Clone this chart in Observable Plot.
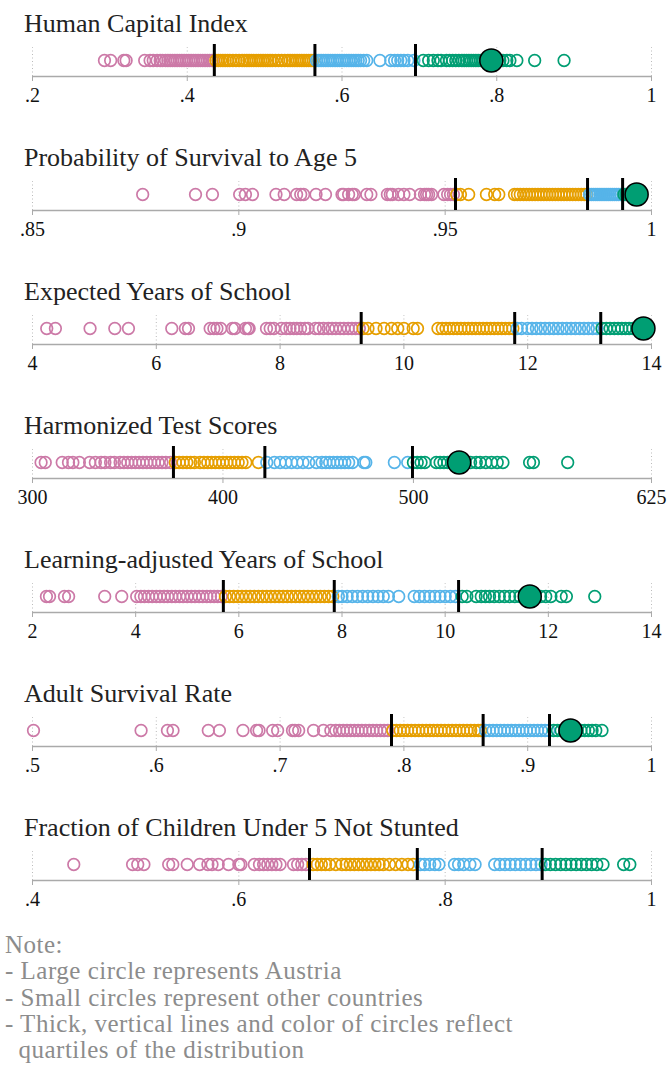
<!DOCTYPE html>
<html><head><meta charset="utf-8">
<script src="https://cdn.jsdelivr.net/npm/d3@7"></script>
<script src="https://cdn.jsdelivr.net/npm/@observablehq/plot@0.6"></script>
<style>
body{margin:0;background:#fff;}
#chart{position:relative;width:667px;height:1073px;font-family:'Liberation Serif',serif;}
.panel{position:absolute;left:0;width:667px;height:134px;}
.title{position:absolute;left:24px;top:11px;font-size:26px;line-height:26px;color:#222;white-space:nowrap;font-family:'Liberation Serif',serif;}
.panel svg{position:absolute;left:0;top:37px;}
.note{position:absolute;left:5px;top:932px;font-size:25px;line-height:26.3px;color:#8c8c8c;white-space:nowrap;letter-spacing:0.5px;font-family:'Liberation Serif',serif;}
</style></head>
<body><div id="chart"></div>
<script>
const titles = ["Human Capital Index","Probability of Survival to Age 5","Expected Years of School","Harmonized Test Scores","Learning-adjusted Years of School","Adult Survival Rate","Fraction of Children Under 5 Not Stunted"];
const tickSets = [[0.2,0.4,0.6,0.8,1],[0.85,0.9,0.95,1],[4,6,8,10,12,14],[300,400,500,625],[2,4,6,8,10,12,14],[0.5,0.6,0.7,0.8,0.9,1],[0.4,0.6,0.8,1]];
const quartiles = [[0.435,0.565,0.695],[0.9525,0.9845,0.993],[9.31,11.79,13.18],[374,422,499.5],[5.70,7.85,10.26],[0.790,0.864,0.9176],[0.6685,0.773,0.894]];
const austria = [0.793,0.9964,13.87,524,11.64,0.9346,null];
const palette = ["#CC79A7","#E69F00","#56B4E9","#009E73"];

const hci = [0.293,0.301,0.318,0.321,0.345,0.352,0.356,0.361,0.365,0.368,0.372,0.375,0.378,0.381,0.384,0.387,0.390,0.393,0.396,0.399,0.402,0.405,0.408,0.411,0.414,0.417,0.420,0.423,0.426,0.429,0.432,0.434,
0.437,0.440,0.443,0.446,0.449,0.452,0.455,0.459,0.463,0.467,0.471,0.474,0.477,0.480,0.483,0.486,0.489,0.492,0.495,0.498,0.501,0.504,0.507,0.510,0.514,0.518,0.522,0.526,0.530,0.533,0.536,0.539,0.542,0.545,0.548,0.551,0.554,0.557,0.560,0.563,
0.567,0.570,0.573,0.576,0.579,0.582,0.585,0.588,0.591,0.594,0.597,0.600,0.603,0.606,0.609,0.612,0.615,0.618,0.621,0.624,0.628,0.632,0.649,0.663,0.668,0.672,0.676,0.680,0.685,0.693,
0.705,0.712,0.718,0.724,0.728,0.735,0.739,0.743,0.747,0.751,0.755,0.758,0.761,0.764,0.767,0.770,0.773,0.776,0.779,0.782,0.785,0.788,0.791,0.796,0.800,0.804,0.808,0.813,0.817,0.826,0.849,0.887];
const survival5 = [0.8767,0.8895,0.8936,0.9002,0.9016,0.9033,0.9090,0.9110,0.9140,0.9150,0.9157,0.9187,0.9210,0.9250,0.9254,0.9266,0.9275,0.9280,0.9310,0.9320,0.9360,0.9367,0.9372,0.9387,0.9400,0.9414,0.9440,0.9450,0.9455,0.9460,0.9467,0.9497,0.9506,0.9513,0.9520,
0.9528,0.9537,0.9557,0.9600,0.9620,0.9630,0.9668,0.9675,0.9682,0.9690,0.9697,0.9704,0.9711,0.9718,0.9725,0.9732,0.9739,0.9746,0.9753,0.9760,0.9767,0.9774,0.9781,0.9788,0.9795,0.9802,0.9809,0.9816,0.9823,0.9830,0.9837,0.9843,
0.9850,0.9855,0.9860,0.9865,0.9870,0.9875,0.9880,0.9885,0.9890,0.9895,0.9900,0.9905,0.9910,0.9915,0.9920,0.9925,
0.9933,0.9938,0.9942,0.9946,0.9950,0.9954,0.9958,0.9962,0.9966,0.9970];
const schoolYears = [4.23,4.37,4.93,5.33,5.55,6.25,6.47,6.52,6.87,6.93,6.98,7.04,7.23,7.27,7.44,7.48,7.5,7.78,7.84,7.9,8.02,8.1,8.16,8.22,8.27,8.33,8.4,8.45,8.57,8.63,8.7,8.78,8.84,8.9,8.97,9.03,9.1,9.16,9.22,9.28,
9.34,9.42,9.55,9.68,9.8,9.9,10.0,10.15,10.22,10.55,10.62,10.68,10.74,10.8,10.86,10.92,10.98,11.04,11.1,11.16,11.22,11.28,11.34,11.4,11.46,11.52,11.58,11.64,11.7,11.76,
11.83,11.9,12.0,12.07,12.14,12.21,12.28,12.35,12.42,12.49,12.56,12.63,12.7,12.77,12.84,12.91,12.98,13.05,13.12,
13.2,13.27,13.33,13.4,13.46,13.52,13.58,13.64,13.7,13.76,13.82];
const testScores = [304.5,306.7,315.6,318.9,321.2,324.6,330,333,336,338,341,343,346,348,350,352,354,356,358,360,362,364,366,368,370,372.5,
375,377,379,381,383,385,388,390,392,394,396,398,400,402,404,406,408,410,412,418.6,
423,427,430,433,436,439,442,445,449,452,454,456,458,460,462,464,466,468,474,475,490,497,
500,502,504,506,512,514,516,518,520,522,524,527,530,533,535,538,541,544,547,561,563,581];
const lays = [2.27,2.33,2.62,2.70,3.40,3.73,4.02,4.1,4.17,4.25,4.32,4.4,4.47,4.55,4.62,4.7,4.77,4.85,4.92,5.0,5.08,5.15,5.23,5.3,5.38,5.45,5.52,5.59,5.66,
5.74,5.82,5.9,5.98,6.06,6.14,6.22,6.3,6.38,6.46,6.54,6.62,6.7,6.78,6.86,6.94,7.02,7.1,7.18,7.26,7.34,7.42,7.5,7.58,7.66,7.74,7.82,
7.93,8.0,8.1,8.2,8.3,8.4,8.5,8.6,8.7,8.8,8.9,9.1,9.4,9.5,9.6,9.7,9.8,9.9,10.0,10.1,10.2,
10.33,10.42,10.6,10.7,10.78,10.86,10.95,11.05,11.15,11.25,11.35,11.45,11.55,11.7,11.85,11.95,12.05,12.25,12.35,12.9];
const adultSurvival = [0.5008,0.5877,0.609,0.6135,0.642,0.651,0.670,0.681,0.683,0.694,0.698,0.710,0.712,0.715,0.727,0.735,0.741,0.745,0.748,0.751,0.754,0.757,0.760,0.763,0.766,0.769,0.772,0.775,0.778,0.781,0.784,0.787,
0.791,0.794,0.797,0.800,0.803,0.806,0.809,0.812,0.815,0.818,0.821,0.824,0.827,0.830,0.833,0.836,0.839,0.842,0.845,0.848,0.851,0.854,0.857,0.860,0.862,
0.866,0.869,0.872,0.875,0.878,0.881,0.884,0.887,0.890,0.893,0.896,0.899,0.902,0.905,0.908,0.911,0.914,0.917,
0.921,0.924,0.927,0.930,0.933,0.937,0.940,0.943,0.946,0.949,0.952,0.955,0.96];
const notStunted = [0.44,0.497,0.502,0.508,0.532,0.536,0.55,0.562,0.570,0.574,0.580,0.590,0.600,0.602,0.615,0.620,0.624,0.628,0.632,0.636,0.640,0.653,0.657,0.661,0.665,
0.672,0.676,0.680,0.684,0.688,0.694,0.700,0.704,0.708,0.712,0.716,0.720,0.724,0.728,0.732,0.736,0.740,0.746,0.752,0.758,0.764,0.769,
0.776,0.780,0.785,0.790,0.794,0.809,0.813,0.818,0.824,0.829,0.848,0.853,0.858,0.863,0.868,0.873,0.878,0.883,0.888,0.893,
0.897,0.902,0.907,0.912,0.917,0.922,0.927,0.932,0.937,0.942,0.947,0.953,0.973,0.979];
const series = [hci, survival5, schoolYears, testScores, lays, adultSurvival, notStunted];
const noteLines = ["Note:","- Large circle represents Austria","- Small circles represent other countries","- Thick, vertical lines and color of circles reflect","&nbsp;&nbsp;quartiles of the distribution"];

const fmt = d => { const s = String(d); return s.startsWith("0.") ? s.slice(1) : s; };
const chart = document.getElementById("chart");
const FONT = "'Liberation Serif', serif";

titles.forEach((t, i) => {
  const panel = document.createElement("div");
  panel.className = "panel";
  panel.style.top = (134 * i) + "px";
  const title = document.createElement("div");
  title.className = "title";
  title.style.fontFamily = FONT;
  title.textContent = t;
  panel.appendChild(title);
  const ticks = tickSets[i];
  const a = austria[i];
  const svg = Plot.plot({
    width: 667, height: 97,
    marginLeft: 32, marginRight: 16, marginTop: 7, marginBottom: 58,
    x: {domain: [ticks[0], ticks[ticks.length - 1]]},
    y: {domain: [0, 1], axis: null},
    color: {type: "threshold", domain: quartiles[i], range: palette},
    style: {fontFamily: FONT, fontSize: "20px", background: "transparent", overflow: "visible"},
    marks: [
      Plot.ruleX(ticks, {y1: 0, y2: 0.9, stroke: "#bbbbbb", strokeDasharray: "1,2.5", strokeWidth: 1}),
      Plot.ruleY([0], {stroke: "#aaaaaa", strokeWidth: 1.3}),
      Plot.axisX({ticks, tickFormat: fmt, tickSize: 5, tickPadding: 6, stroke: "#aaaaaa", fill: "#111", fontSize: 20, fontFamily: FONT}),
      Plot.dot(series[i], {x: d => d, y: 0.5, r: 5.8, stroke: d => d, fill: "none", strokeWidth: 1.7}),
      Plot.ruleX(quartiles[i], {y1: 0, y2: 1, stroke: "black", strokeWidth: 3}),
      Plot.dot(a == null ? [] : [a], {x: d => d, y: 0.5, r: 11.5, fill: "#009E73", stroke: "black", strokeWidth: 1.5})
    ]
  });
  panel.appendChild(svg);
  chart.appendChild(panel);
});

const note = document.createElement("div");
note.className = "note";
note.style.fontFamily = FONT;
note.innerHTML = noteLines.join("<br>");
chart.appendChild(note);
</script>
</body></html>
